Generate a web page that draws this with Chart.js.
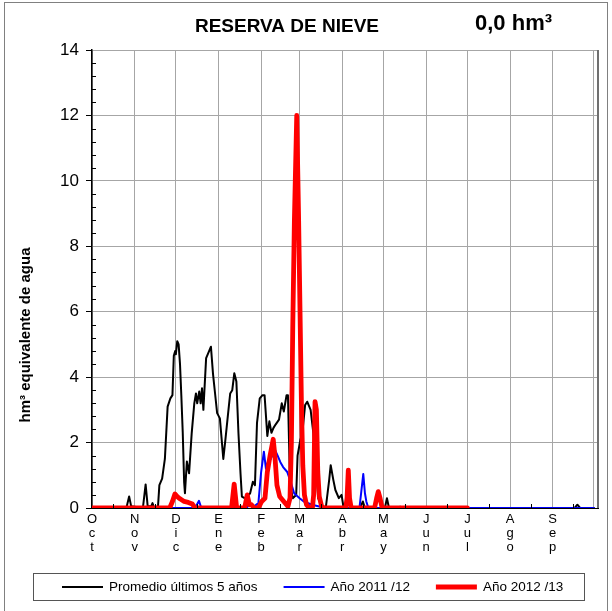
<!DOCTYPE html>
<html>
<head>
<meta charset="utf-8">
<script src="https://cdn.jsdelivr.net/npm/chart.js@4/dist/chart.umd.min.js"></script>
<style>
  html, body { margin: 0; padding: 0; background: #fff; }
  canvas { display: block; }
</style>
</head>
<body>
<canvas id="nieve" width="612" height="611"></canvas>
<script>
// Reserva de nieve: día del año hidrológico (0 = 1 oct) y hm³
const meses = ['Oct', 'Nov', 'Dic', 'Ene', 'Feb', 'Mar', 'Abr', 'May', 'Jun', 'Jul', 'Ago', 'Sep'];
const inicioMes = [0, 31, 61, 92, 123, 151, 182, 212, 243, 273, 304, 335, 365];

const promedio = [
  [0, 0], [25, 0], [27, 0.35], [28.5, 0.05], [37, 0], [39, 0.72], [40.5, 0.05], [43, 0.05], [44, 0.15],
  [45, 0.02], [48, 0.05], [49, 0.7], [51, 0.9], [53, 1.5], [55, 3.1], [57, 3.35], [58.5, 3.45],
  [59.5, 4.65], [60.5, 4.8], [61, 4.7], [62, 5.1], [63, 5.0], [64, 4.4], [65, 3.4], [66, 2.3],
  [67, 0.8], [67.6, 0.45], [69, 1.42], [70.6, 1.06], [72.5, 2.28], [74.4, 3.2], [75.6, 3.5],
  [76.5, 3.2], [78, 3.56], [79, 3.2], [80, 3.66], [81, 3.0], [83, 4.58], [85, 4.78], [86.5, 4.93],
  [88, 4.1], [89.5, 3.5], [91, 2.9], [93, 2.74], [95.5, 1.5], [97, 2.08], [99, 2.9], [100.5, 3.5],
  [102, 3.6], [103.5, 4.12], [105, 3.87], [106.5, 2.3], [108, 1.06], [109, 0.35], [111, 0.3],
  [113, 0.35], [115, 0.45], [117, 0.8], [118.5, 0.7], [120, 2.6], [122, 3.35], [124, 3.45],
  [125.5, 3.45], [127.5, 2.2], [129, 2.65], [130.5, 2.3], [132, 2.45], [133.5, 2.55], [136, 2.7],
  [138, 3.2], [139.5, 2.95], [141.5, 3.45], [142.5, 3.45], [144, 0.75], [146, 0.3], [148.5, 0.4],
  [149.5, 1.6], [151.5, 2.08], [153, 2.3], [155, 3.15], [156.5, 3.25], [159, 3.0], [161, 2.28],
  [163, 1.26], [164.5, 0.3], [166.5, 0.1], [170, 0], [172.5, 0.86], [173.6, 1.31], [175.5, 0.86],
  [177, 0.55], [179.5, 0.3], [181.5, 0.4], [183, 0], [195, 0], [197, 0.2], [198.5, 0], [213, 0],
  [214.5, 0.3], [216, 0], [223, 0], [224, 0.04], [226, 0], [351, 0], [353, 0.1], [355, 0], [365, 0],
];

const anio1112 = [
  [0, 0], [75, 0], [77.8, 0.22], [79.5, 0], [112, 0], [115, 0.1], [118, 0.05], [121, 0.15],
  [123, 1.1], [125, 1.72], [126.5, 1.2], [128, 1.42], [130, 1.5], [133, 1.78], [135, 1.6],
  [137, 1.4], [139, 1.25], [142, 1.1], [144.5, 0.8], [147, 0.45], [151, 0.3], [154, 0.2],
  [160, 0.1], [166, 0.04], [172, 0], [194.5, 0], [197.3, 1.04], [198.5, 0.45], [199.5, 0.2],
  [201, 0], [365, 0],
];

const anio1213 = [
  [0, 0], [56.5, 0], [58.5, 0.2], [60.3, 0.43], [62, 0.35], [64, 0.28], [67, 0.2], [70, 0.17],
  [73, 0.12], [75, 0], [101.5, 0], [103.4, 0.73], [105.2, 0], [111, 0], [112.9, 0.4], [114.5, 0.1],
  [116, 0.1], [118, 0], [121, 0], [123.4, 0.2], [125.8, 0.3], [127.5, 1.1], [129.5, 1.6],
  [131.8, 2.1], [133, 1.6], [134.5, 0.7], [136.5, 0.35], [139.5, 0.2], [142.5, 0.05], [144, 0.3],
  [145, 2.0], [146, 5.5], [147.2, 8.8], [148.9, 12.0], [150.2, 9.0], [151.3, 6.0], [152.3, 3.2],
  [153.3, 1.3], [154.5, 0.4], [156, 0.1], [158, 0], [160.3, 0], [161.2, 0.4], [162.2, 3.25],
  [163.2, 3.0], [164.2, 1.1], [165.3, 0.35], [167, 0.05], [169, 0], [184.5, 0], [185.5, 0.3],
  [186.4, 1.16], [187.3, 0.3], [188.5, 0], [205.5, 0], [207, 0.3], [208.2, 0.5], [209.5, 0.3],
  [211, 0], [273, 0],
];

const reservaActual = '0,0 hm³';

const FUENTE = "'Liberation Sans', Arial, sans-serif";
Chart.defaults.font.family = FUENTE;
Chart.defaults.color = '#000';

const puntos = (serie) => serie.map(([x, y]) => ({ x, y }));

// títulos, marco, marcas menores y leyenda
const decorado = {
  id: 'decorado',
  beforeDraw(chart) {
    const ctx = chart.ctx;
    ctx.save();
    ctx.fillStyle = '#fff';
    ctx.fillRect(0, 0, chart.width, chart.height);
    ctx.restore();
  },
  afterDraw(chart) {
    const { ctx, chartArea: area, scales: { x, y } } = chart;
    ctx.save();

    // marco exterior
    ctx.strokeStyle = '#808080';
    ctx.lineWidth = 1;
    ctx.strokeRect(4.5, 2.5, 603, 640);

    // borde derecho del área de trazado
    ctx.strokeStyle = '#707070';
    ctx.lineWidth = 2;
    ctx.beginPath();
    ctx.moveTo(area.right, area.top);
    ctx.lineTo(area.right, area.bottom);
    ctx.stroke();

    // marcas menores del eje Y cada 0,4
    ctx.strokeStyle = '#000';
    ctx.lineWidth = 1;
    ctx.beginPath();
    for (let i = 1; i < 35; i++) {
      if (i % 5 === 0) continue;
      const py = Math.round(y.getPixelForValue(i * 0.4)) + 0.5;
      ctx.moveTo(area.left, py);
      ctx.lineTo(area.left + 4, py);
    }
    // marcas menores del eje X a mitad de mes
    for (let i = 0; i < meses.length; i++) {
      const px = Math.round(x.getPixelForValue((inicioMes[i] + inicioMes[i + 1]) / 2)) + 0.5;
      ctx.moveTo(px, area.bottom);
      ctx.lineTo(px, area.bottom - 4);
    }
    ctx.stroke();

    // títulos
    ctx.fillStyle = '#000';
    ctx.textBaseline = 'middle';
    ctx.textAlign = 'center';
    ctx.font = `bold 19px ${FUENTE}`;
    ctx.fillText('RESERVA DE NIEVE', 287, 27);
    ctx.textAlign = 'left';
    ctx.font = `bold 22px ${FUENTE}`;
    ctx.fillText(reservaActual, 475, 24);

    // título del eje Y
    ctx.save();
    ctx.translate(26, 335);
    ctx.rotate(-Math.PI / 2);
    ctx.textAlign = 'center';
    ctx.font = `bold 15px ${FUENTE}`;
    ctx.fillText('hm³ equivalente de agua', 0, 0);
    ctx.restore();

    // leyenda
    ctx.strokeStyle = '#555';
    ctx.lineWidth = 1;
    ctx.strokeRect(33.5, 573.5, 551, 27);
    ctx.font = `13.5px ${FUENTE}`;
    ctx.textAlign = 'left';
    let lx = 62;
    const ly = 587;
    chart.data.datasets.forEach((ds) => {
      ctx.strokeStyle = ds.borderColor;
      ctx.lineWidth = ds.borderWidth;
      ctx.beginPath();
      ctx.moveTo(lx, ly);
      ctx.lineTo(lx + 41, ly);
      ctx.stroke();
      ctx.fillText(ds.label, lx + 47, ly);
      lx += 47 + ctx.measureText(ds.label).width + 26;
    });

    ctx.restore();
  },
};

new Chart(document.getElementById('nieve'), {
  type: 'line',
  data: {
    datasets: [
      { label: 'Promedio últimos 5 años', data: puntos(promedio), borderColor: '#000000', borderWidth: 2, order: 2 },
      { label: 'Año 2011 /12', data: puntos(anio1112), borderColor: '#0000ff', borderWidth: 2, order: 1 },
      { label: 'Año 2012 /13', data: puntos(anio1213), borderColor: '#ff0000', borderWidth: 4.8, order: 0 },
    ],
  },
  options: {
    responsive: false,
    animation: false,
    devicePixelRatio: 1,
    layout: { padding: { top: 50, right: 14, bottom: 0, left: 0 } },
    elements: {
      point: { radius: 0, hoverRadius: 0 },
      line: { tension: 0, fill: false, borderJoinStyle: 'round', borderCapStyle: 'round' },
    },
    plugins: { legend: { display: false }, tooltip: { enabled: false }, title: { display: false } },
    scales: {
      x: {
        type: 'linear',
        min: 0,
        max: 368,
        afterBuildTicks(scale) {
          scale.ticks = inicioMes.map((v) => ({ value: v }));
        },
        afterFit(scale) {
          scale.height = 103;
        },
        ticks: {
          autoSkip: false,
          maxRotation: 0,
          padding: 4,
          font: { size: 13, lineHeight: 1.1 },
          callback(value) {
            const i = inicioMes.indexOf(value);
            return i >= 0 && i < meses.length ? meses[i].split('') : '';
          },
        },
        grid: { color: '#a6a6a6', lineWidth: 1, drawTicks: false },
        border: { color: '#000', width: 1 },
      },
      y: {
        min: 0,
        max: 14,
        afterFit(scale) {
          scale.width = 92;
        },
        ticks: { stepSize: 2, padding: 7, font: { size: 17 } },
        grid: { color: '#a6a6a6', lineWidth: 1, tickColor: '#000', tickLength: 6 },
        border: { color: '#000', width: 1.5 },
      },
    },
  },
  plugins: [decorado],
});
</script>
</body>
</html>
